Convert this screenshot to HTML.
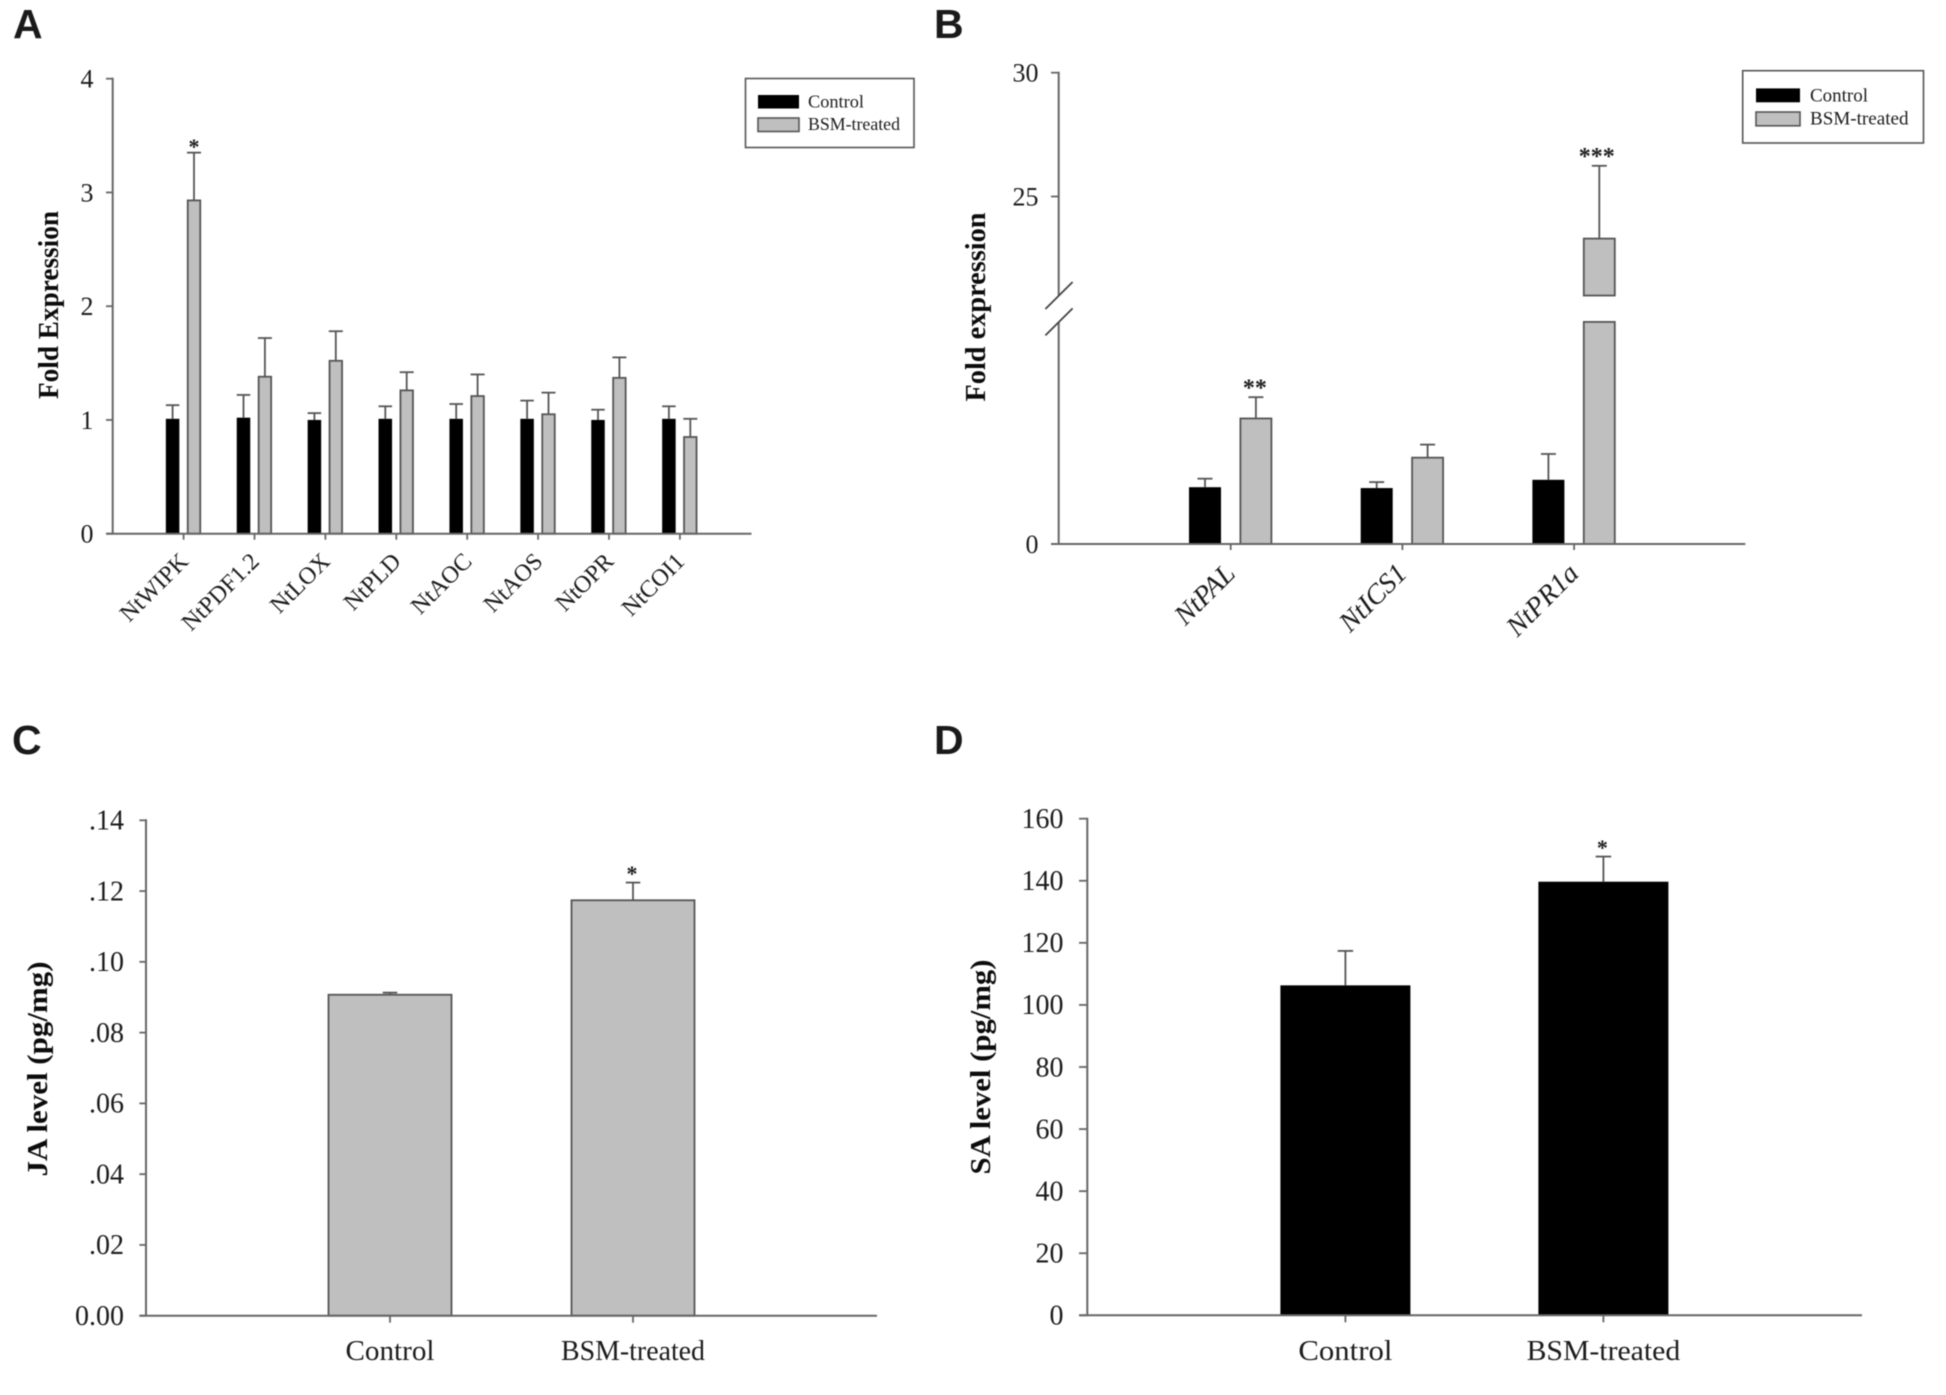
<!DOCTYPE html>
<html lang="en">
<head>
<meta charset="utf-8">
<title>Fold expression and hormone levels in control and BSM-treated plants</title>
<style>
html,body{margin:0;padding:0;background:#fff;}
body{width:1946px;height:1395px;overflow:hidden;}
svg{display:block;filter:blur(0.6px);}
text{font-family:"Liberation Serif",serif;fill:#1c1c1c;}
.letter{font-family:"Liberation Sans",sans-serif;font-weight:700;font-size:41px;fill:#1a1a1a;}
.title{font-weight:700;font-size:28px;fill:#0c0c0c;}
</style>
</head>
<body>
<svg id="figure" xmlns="http://www.w3.org/2000/svg" width="1946" height="1395" viewBox="0 0 1946 1395">
  <rect x="0" y="0" width="1946" height="1395" fill="#fff"/>

  <text class="letter" x="13" y="38">A</text>
  <text class="letter" x="934" y="38">B</text>
  <text class="letter" x="12" y="754">C</text>
  <text class="letter" x="934" y="754">D</text>

  <text class="title" transform="translate(58,305) rotate(-90)" text-anchor="middle" textLength="188" lengthAdjust="spacingAndGlyphs">Fold Expression</text>
  <text class="title" transform="translate(985,307) rotate(-90)" text-anchor="middle" textLength="189" lengthAdjust="spacingAndGlyphs">Fold expression</text>
  <text class="title" transform="translate(47,1069) rotate(-90)" text-anchor="middle" textLength="215" lengthAdjust="spacingAndGlyphs">JA level (pg/mg)</text>
  <text class="title" transform="translate(990,1067) rotate(-90)" text-anchor="middle" textLength="215" lengthAdjust="spacingAndGlyphs">SA level (pg/mg)</text>

  <g>
    <rect x="745.5" y="78.5" width="168.5" height="69" fill="#fff" stroke="#555" stroke-width="1.6"/>
    <rect x="758" y="95" width="41" height="13.5" fill="#000"/>
    <text x="808" y="107.5" font-size="18" textLength="56" lengthAdjust="spacingAndGlyphs">Control</text>
    <rect x="758" y="118" width="41" height="13.5" fill="#bfbfbf" stroke="#555" stroke-width="1.6"/>
    <text x="808" y="130" font-size="18" textLength="92" lengthAdjust="spacingAndGlyphs">BSM-treated</text>
  </g>
  <g>
    <rect x="1742.7" y="70.7" width="180.8" height="72.3" fill="#fff" stroke="#555" stroke-width="1.6"/>
    <rect x="1756" y="88.4" width="44" height="13.9" fill="#000"/>
    <text x="1810" y="101.5" font-size="19" textLength="58" lengthAdjust="spacingAndGlyphs">Control</text>
    <rect x="1756" y="112" width="44" height="13.8" fill="#bfbfbf" stroke="#555" stroke-width="1.6"/>
    <text x="1810" y="124.5" font-size="19" textLength="98.5" lengthAdjust="spacingAndGlyphs">BSM-treated</text>
  </g>
</svg>

<script>
// Panel A
var aCategories = ["NtWIPK","NtPDF1.2","NtLOX","NtPLD","NtAOC","NtAOS","NtOPR","NtCOI1"];
var aControl = [1.01,1.02,1.00,1.01,1.01,1.01,1.00,1.01];
var aControlErr = [0.12,0.20,0.06,0.11,0.13,0.16,0.09,0.11];
var aTreated = [2.93,1.38,1.52,1.26,1.21,1.05,1.37,0.85];
var aTreatedErr = [0.42,0.34,0.26,0.16,0.19,0.19,0.18,0.16];
var aStars = ["*","","","","","","",""];
var aTicks = [0,1,2,3,4];
var aTickLabels = ["0","1","2","3","4"];

// Panel B (broken axis)
var bCategories = ["NtPAL","NtICS1","NtPR1a"];
var bControl = [1.00,0.985,1.13];
var bControlErr = [0.15,0.105,0.455];
var bTreated = [2.21,1.52,23.3];
var bTreatedErr = [0.375,0.23,2.94];
var bStars = ["**","","***"];
var bTicks = [0,25,30];
var bTickLabels = ["0","25","30"];
var bBreakLow = 3.91;
var bBreakHigh = 21;

// Panel C
var cCategories = ["Control","BSM-treated"];
var cValues = [0.0907,0.1174];
var cErr = [0.0006,0.0050];
var cStars = ["","*"];
var cTicks = [0,0.02,0.04,0.06,0.08,0.10,0.12,0.14];
var cTickLabels = ["0.00",".02",".04",".06",".08",".10",".12",".14"];

// Panel D
var dCategories = ["Control","BSM-treated"];
var dValues = [106.3,139.7];
var dErr = [11.1,8.1];
var dStars = ["","*"];
var dTicks = [0,20,40,60,80,100,120,140,160];
var dTickLabels = ["0","20","40","60","80","100","120","140","160"];

var svg = document.getElementById('figure');
var NS = 'http://www.w3.org/2000/svg';
var AXIS = '#666';
var ERR = '#555';

function make(tag, attrs, parent) {
  var n = document.createElementNS(NS, tag);
  for (var k in attrs) { n.setAttribute(k, attrs[k]); }
  parent.appendChild(n);
  return n;
}
function line(x1, y1, x2, y2, color, w, parent, name) {
  var l = make('line', {x1:x1, y1:y1, x2:x2, y2:y2, stroke:color, 'stroke-width':w}, parent);
  
  
  return l;
}
function group(parent, name) {
  var g = make('g', {}, parent);
  
  
  return g;
}
function label(str, x, y, size, anchor, parent, name, extra) {
  var t = make('text', {x:x, y:y, 'font-size':size, 'text-anchor':anchor}, parent);
  
  
  if (extra) { for (var k in extra) { t.setAttribute(k, extra[k]); } }
  t.textContent = str;
  return t;
}
function errorBar(x, base, top, capW, parent, name) {
  line(x, base, x, top, ERR, 1.8, parent, name + '-stem');
  line(x - capW / 2, top, x + capW / 2, top, ERR, 1.8, parent, name + '-cap');
}
function bar(x, w, y0, y1, color, parent, name) {
  var r = make('rect', {x:x - w / 2, y:Math.min(y0, y1), width:w, height:Math.abs(y1 - y0)}, parent);
  
  
  if (color === 'gray') {
    r.setAttribute('fill', '#bfbfbf');
    r.setAttribute('stroke', '#555');
    r.setAttribute('stroke-width', '1.8');
  } else {
    r.setAttribute('fill', '#000');
  }
  return r;
}
function star(str, x, y, size, parent, name) {
  return label(str, x, y + size * 0.42, size, 'middle', parent, name, {'font-weight':'700'});
}
function linearY(zeroPx, topPx, maxV) {
  return function (v) { return zeroPx - (v / maxV) * (zeroPx - topPx); };
}

/* ---------- Panel A ---------- */
(function () {
  var g = group(svg, 'panel-a-chart');
  var axisX = 112.7, x0 = 183.6, step = 70.9;
  var y = linearY(533.7, 78.7, 4);
  var xAt = function (i) { return x0 + i * step; };
  aCategories.forEach(function (c, i) {
    var cx = xAt(i), lx = cx - 11, tx = cx + 10.4;
    bar(lx, 13.5, y(0), y(aControl[i]), 'black', g, 'bar-control-' + c);
    errorBar(lx, y(aControl[i]), y(aControl[i] + aControlErr[i]), 13.5, g, 'error-control-' + c);
    bar(tx, 12.5, y(0), y(aTreated[i]), 'gray', g, 'bar-bsm-' + c);
    errorBar(tx, y(aTreated[i]), y(aTreated[i] + aTreatedErr[i]), 14, g, 'error-bsm-' + c);
    if (aStars[i]) { star(aStars[i], tx, y(aTreated[i] + aTreatedErr[i]) - 8, 22, g, 'significance-' + c); }
    line(cx, y(0), cx, y(0) + 6, AXIS, 1.8, g, 'x-tick-' + c);
    var t = label(c, 0, 0, 24, 'end', g, 'x-label-' + c);
    t.setAttribute('transform', 'translate(' + (cx + 6) + ',' + (y(0) + 29) + ') rotate(-45)');
  });
  line(axisX, y(4) - 1, axisX, y(0), AXIS, 2, g, 'y-axis-line');
  line(106, y(0), 751.5, y(0), AXIS, 2, g, 'x-axis-line');
  aTicks.forEach(function (v, i) {
    line(106, y(v), axisX, y(v), AXIS, 1.8, g, 'y-tick-' + aTickLabels[i]);
    label(aTickLabels[i], 93.5, y(v) + 8.8, 26, 'end', g, 'y-tick-label-' + aTickLabels[i]);
  });
})();

/* ---------- Panel B ---------- */
(function () {
  var g = group(svg, 'panel-b-chart');
  var axisX = 1058.7, x0 = 1230.7, step = 171.7;
  var zero = 544, pxPerLow = 56.8, top = 72.7, pxPerHigh = 24.76;
  var y = function (v) {
    if (v <= bBreakLow) { return zero - v * pxPerLow; }
    return top + (30 - v) * pxPerHigh;
  };
  var xAt = function (i) { return x0 + i * step; };
  bCategories.forEach(function (c, i) {
    var cx = xAt(i), lx = cx - 25.7, tx = cx + 25.2;
    bar(lx, 32, y(0), y(bControl[i]), 'black', g, 'bar-control-' + c);
    errorBar(lx, y(bControl[i]), y(bControl[i] + bControlErr[i]), 15, g, 'error-control-' + c);
    if (bTreated[i] > bBreakHigh) {
      bar(tx, 31, y(0), y(bBreakLow), 'gray', g, 'bar-bsm-lower-' + c);
      bar(tx, 31, y(bBreakHigh), y(bTreated[i]), 'gray', g, 'bar-bsm-upper-' + c);
    } else {
      bar(tx, 31, y(0), y(bTreated[i]), 'gray', g, 'bar-bsm-' + c);
    }
    errorBar(tx, y(bTreated[i]), y(bTreated[i] + bTreatedErr[i]), 15, g, 'error-bsm-' + c);
    if (bStars[i]) { star(bStars[i], tx + (bStars[i].length > 2 ? -2.5 : -1), y(bTreated[i] + bTreatedErr[i]) - 12, 24, g, 'significance-' + c); }
    line(cx, y(0), cx, y(0) + 6, AXIS, 1.8, g, 'x-tick-' + c);
    var t = label(c, 0, 0, 28, 'end', g, 'x-label-' + c, {'font-style':'italic'});
    t.setAttribute('transform', 'translate(' + (cx + 6) + ',' + (y(0) + 31) + ') rotate(-45)');
  });
  line(axisX, top - 1, axisX, y(bBreakHigh), AXIS, 2, g, 'y-axis-upper-segment');
  line(axisX, y(bBreakLow), axisX, zero, AXIS, 2, g, 'y-axis-lower-segment');
  line(1045.4, y(bBreakHigh) + 13.5, 1072.6, y(bBreakHigh) - 13.5, '#444', 1.8, g, 'axis-break-upper-slash');
  line(1045.4, y(bBreakLow) + 13.5, 1072.6, y(bBreakLow) - 13.5, '#444', 1.8, g, 'axis-break-lower-slash');
  line(1051, zero, 1745.3, zero, AXIS, 2, g, 'x-axis-line');
  bTicks.forEach(function (v, i) {
    line(1051, y(v), axisX, y(v), AXIS, 1.8, g, 'y-tick-' + bTickLabels[i]);
    label(bTickLabels[i], 1038.5, y(v) + 8.8, 26, 'end', g, 'y-tick-label-' + bTickLabels[i]);
  });
})();

/* ---------- Panels C and D ---------- */
function simplePanel(cfg) {
  var g = group(svg, cfg.name);
  var y = linearY(cfg.zero, cfg.top, cfg.max);
  cfg.categories.forEach(function (c, i) {
    var cx = cfg.x0 + i * cfg.step;
    bar(cx, cfg.barW, y(0), y(cfg.values[i]), cfg.color, g, 'bar-' + c);
    errorBar(cx, y(cfg.values[i]), y(cfg.values[i] + cfg.err[i]), cfg.capW, g, 'error-' + c);
    if (cfg.stars[i]) { star(cfg.stars[i], cx - 1, y(cfg.values[i] + cfg.err[i]) - 11, 22, g, 'significance-' + c); }
    line(cx, y(0), cx, y(0) + 7, AXIS, 1.8, g, 'x-tick-' + c);
    label(c, cx, 1360, 28, 'middle', g, 'x-label-' + c, {textLength: cfg.labelW[i], lengthAdjust: 'spacingAndGlyphs'});
  });
  line(cfg.axisX, cfg.top - 1, cfg.axisX, cfg.zero, AXIS, 2, g, 'y-axis-line');
  line(cfg.xStart, cfg.zero, cfg.xEnd, cfg.zero, AXIS, 2, g, 'x-axis-line');
  cfg.ticks.forEach(function (v, i) {
    line(cfg.xStart, y(v), cfg.axisX, y(v), AXIS, 1.8, g, 'y-tick-' + cfg.tickLabels[i]);
    label(cfg.tickLabels[i], cfg.labelX, y(v) + 9.3, 28, 'end', g, 'y-tick-label-' + cfg.tickLabels[i]);
  });
}
simplePanel({
  name:'panel-c-chart', categories:cCategories, values:cValues, err:cErr, stars:cStars,
  ticks:cTicks, tickLabels:cTickLabels, max:0.14, zero:1315.7, top:820.3,
  axisX:146, xStart:139.4, xEnd:877, x0:390, step:243, barW:123, capW:14.5,
  color:'gray', labelX:124, labelW:[89,144]
});
simplePanel({
  name:'panel-d-chart', categories:dCategories, values:dValues, err:dErr, stars:dStars,
  ticks:dTicks, tickLabels:dTickLabels, max:160, zero:1315.3, top:818.7,
  axisX:1087.3, xStart:1079, xEnd:1862, x0:1345.4, step:258, barW:130, capW:15.5,
  color:'black', labelX:1063.5, labelW:[94,153.6]
});
</script>
</body>
</html>
